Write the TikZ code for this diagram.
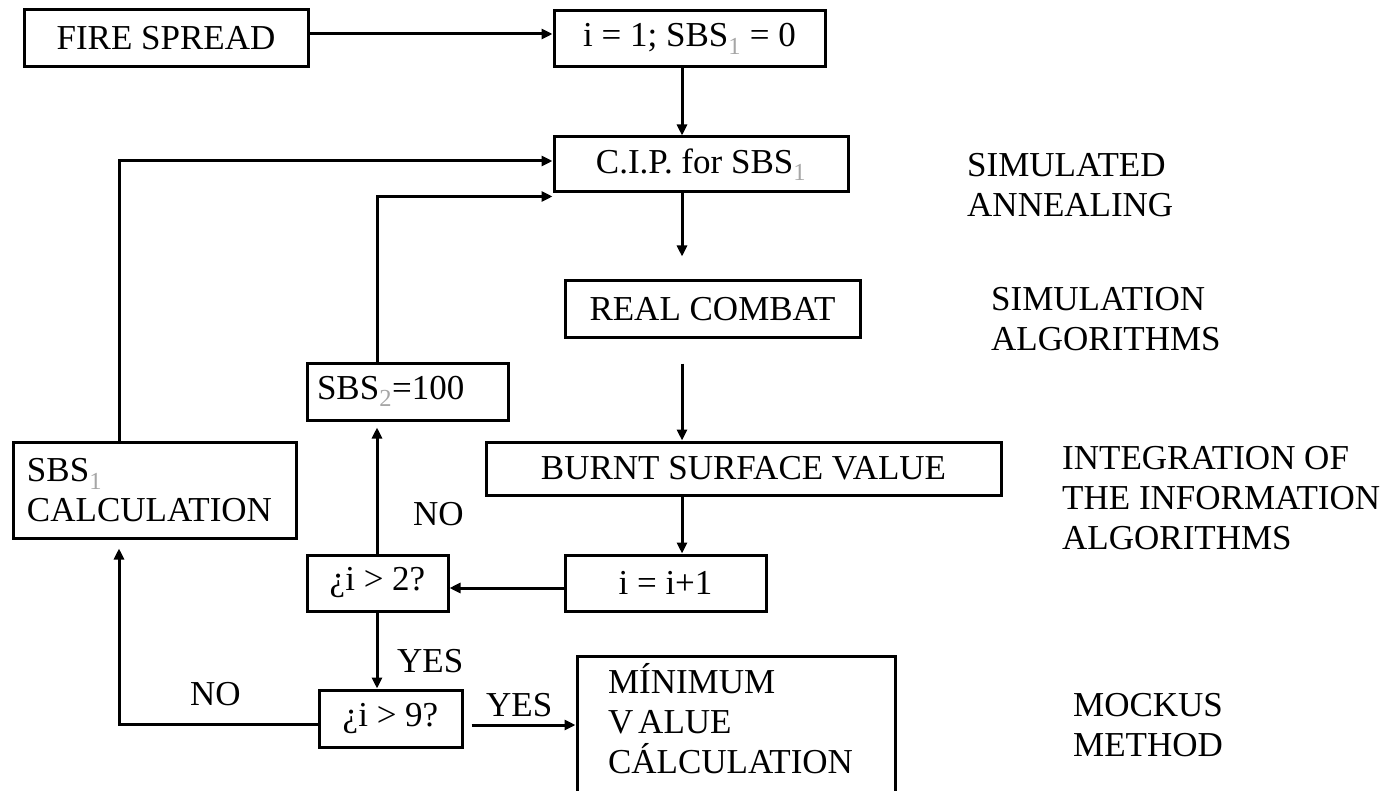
\documentclass[tikz,border=0pt]{standalone}
\usepackage{fontspec}
\setmainfont{Liberation Serif}
\usetikzlibrary{arrows.meta,calc}
\newcommand\lowidx[1]{\textsubscript{\textcolor{gray!70}{#1}}}
\begin{document}
\begin{tikzpicture}[x=1pt,y=-1pt,
  every node/.style={font=\fontsize{35}{40}\selectfont},
  box/.style={draw, line width=3pt, inner sep=0pt, anchor=center},
  conn/.style={line width=3pt, -{Triangle[length=11pt,width=10pt]}},
  lbl/.style={anchor=base west, inner sep=0pt},
  side/.style={anchor=north west, align=left, inner sep=0pt}]
\useasboundingbox (0,0) rectangle (1388,791);
\fill[white] (0,0) rectangle (1388,791);
\clip (0,0) rectangle (1388,791);

\coordinate (spine) at (682,0);
\coordinate (loopa) at (119,0);
\coordinate (loopb) at (377,0);

% boxes
\node[box, minimum width=284pt, minimum height=57pt] (fire) at (166,38.5) {FIRE SPREAD};
\node[box, minimum width=271pt, minimum height=56pt] (init) at (689.5,39) {i = 1; SBS\lowidx{1} = 0};
\node[box, minimum width=294pt, minimum height=55pt] (cip) at (701,164.5) {C.I.P. for SBS\lowidx{1}};
\node[box, minimum width=295pt, minimum height=56pt] (real) at (712.5,309) {REAL COMBAT};
\node[box, minimum width=515pt, minimum height=53pt] (burnt) at (743.5,468.5) {BURNT SURFACE VALUE};
\node[box, minimum width=201pt, minimum height=56pt] (inc) at (665.5,583) {i = i+1};
\node[box, minimum width=141pt, minimum height=56pt] (q2) at (377.5,583) {¿i > 2?};
\node[box, minimum width=143pt, minimum height=57pt] (q9) at (390.5,718.5) {¿i > 9?};
\node[box, minimum width=201pt, minimum height=57pt, text width=181pt, align=left] (sbs2) at (407.5,391.5) {SBS\lowidx{2}=100};
\node[box, minimum width=283pt, minimum height=96pt, text width=255pt, align=left] (calc) at (154.5,490) {SBS\lowidx{1}\\CALCULATION};
\node[box, minimum width=318pt, minimum height=205.5pt, text width=256pt, align=left] (minv) at (736,758.75) {MÍNIMUM\\V\kern5pt ALUE\\CÁLCULATION\\\mbox{}\\\mbox{}};

% side labels
\node[side] (sa) at (967,153) {SIMULATED\\ANNEALING};
\node[side] (sim) at (991,287) {SIMULATION\\ALGORITHMS};
\node[side] (integ) at (1062,446) {INTEGRATION OF\\THE INFORMATION\\ALGORITHMS};
\node[side] (mock) at (1073,693) {MOCKUS\\METHOD};

% connectors
\draw[conn] ([yshift=4.5pt]fire.east) -- ([yshift=4.5pt]fire.east -| init.west);
\draw[conn] (init.south -| spine) -- (cip.north -| spine);
\draw[conn, shorten >=23pt] (cip.south -| spine) -- (real.north -| spine);
\draw[conn, shorten <=25pt] (real.south -| spine) -- (burnt.north -| spine);
\draw[conn] (burnt.south -| spine) -- (inc.north -| spine);
\draw[conn] ([yshift=-5pt]inc.west) -- ([yshift=-5pt]inc.west -| q2.east);
\draw[conn, shorten >=6pt] (q2.north -| loopb) -- (sbs2.south -| loopb);
\draw[conn] (sbs2.north -| loopb) |- ([yshift=-3pt]cip.south west);
\draw[conn] (q2.south -| loopb) -- (q9.north -| loopb);
\draw[conn, shorten <=8pt] ([yshift=-6.5pt]q9.east) -- ([yshift=-6.5pt]q9.east -| minv.west);
\draw[conn, shorten >=9pt] ([yshift=-5.5pt]q9.west) -| (calc.south -| loopa);
\draw[conn] (calc.north -| loopa) |- ([yshift=3.5pt]cip.west);

% connector labels
\node[lbl] (no1) at (413,525) {NO};
\node[lbl] (yes1) at (397,672) {YES};
\node[lbl] (no2) at (190,705) {NO};
\node[lbl] (yes2) at (486,716) {YES};
\end{tikzpicture}
\end{document}
